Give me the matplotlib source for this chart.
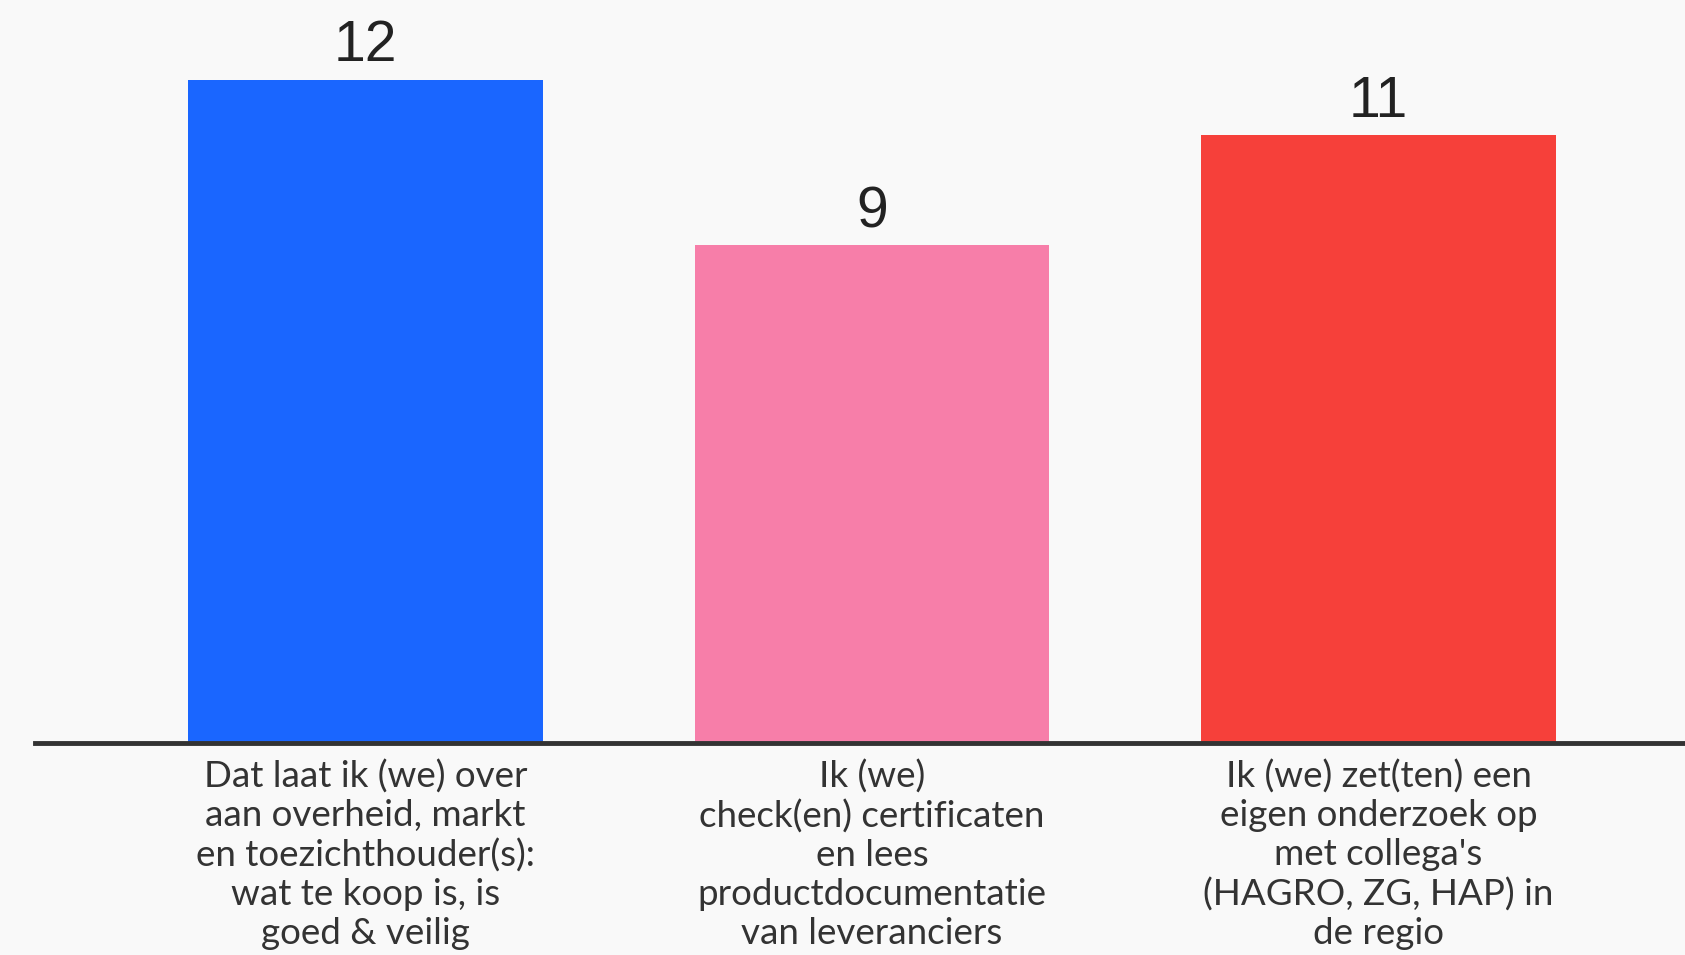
import numpy as np
import matplotlib.pyplot as plt

labels = [
    "Dat laat ik (we) over\naan overheid, markt\nen toezichthouder(s):\nwat te koop is, is\ngoed & veilig",
    "Ik (we)\ncheck(en) certificaten\nen lees\nproductdocumentatie\nvan leveranciers",
    "Ik (we) zet(ten) een\neigen onderzoek op\nmet collega's\n(HAGRO, ZG, HAP) in\nde regio",
]
values = [12, 9, 11]
colors = ["#1A66FF", "#F77EA9", "#F6403A"]
bg = "#F9F9F9"

fig = plt.figure(figsize=(16.85, 9.55), dpi=100, facecolor=bg)
ax = fig.add_axes([0.021, 0.2224, 0.979, 0.7776], facecolor=bg)

x = np.arange(len(values))
bars = ax.bar(x, values, width=0.70, color=colors, zorder=2)
for xi, v in zip(x, values):
    ax.text(xi, v + 0.33, str(v), ha="center", va="baseline", fontsize=41,
            family=["Liberation Sans Narrow", "Liberation Sans", "DejaVu Sans"], color="#222222")

ax.set_xlim(-0.652, 2.605)
ax.set_ylim(0, 13.44)
ax.set_xticks(x)
ax.set_xticklabels(labels, fontsize=26.5, family=["Lato", "DejaVu Sans"], color="#333333",
                   linespacing=1.22)
ax.tick_params(axis="x", length=0, pad=12)
ax.set_yticks([])
for s in ["top", "right", "left"]:
    ax.spines[s].set_visible(False)
ax.spines["bottom"].set_linewidth(3.5)
ax.spines["bottom"].set_color("#333333")
ax.spines["bottom"].set_zorder(3)

plt.savefig("out.png", dpi=100, facecolor=bg)
